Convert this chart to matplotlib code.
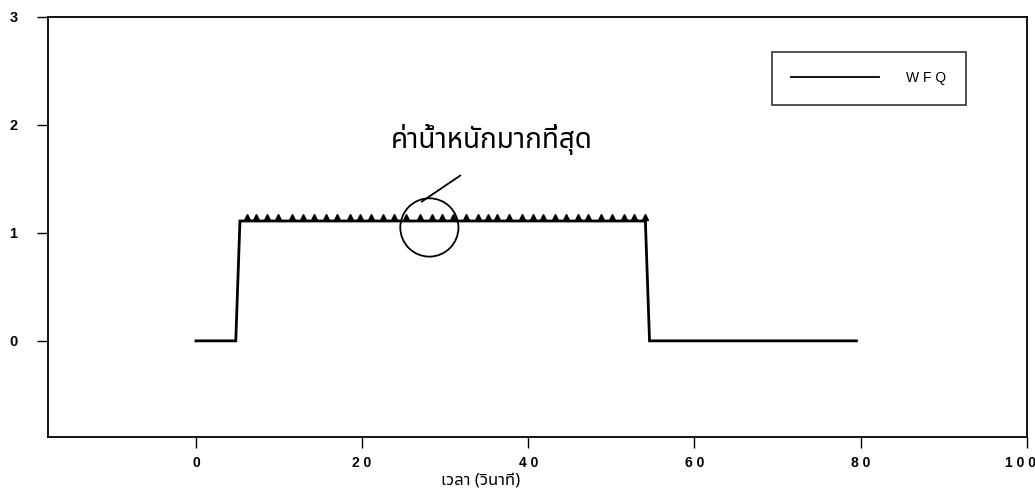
import matplotlib
matplotlib.use("Agg")
import matplotlib.pyplot as plt
from matplotlib.patches import Ellipse
from matplotlib.transforms import ScaledTranslation

# ---- data ----
time_s = [0, 4.8, 5.3, 54.1, 54.6, 79.5]
weight = [0, 0, 1.11, 1.11, 0, 0]
peak_times = [6.1, 7.2, 8.5, 9.9, 11.6, 12.9, 14.2, 15.6, 17.0, 18.5, 19.7, 21.1,
              22.5, 23.9, 25.3, 27.0, 28.4, 29.6, 30.9, 32.5, 33.9, 35.1, 36.3, 37.7,
              39.3, 40.6, 41.8, 43.2, 44.6, 46.0, 47.2, 48.7, 50.1, 51.5, 52.7, 54.0]
peak_value = 1.15
x_ticks = [0, 20, 40, 60, 80, 100]
x_tick_labels = ["0", "2 0", "4 0", "6 0", "8 0", "1 0 0"]
y_ticks = [0, 1, 2, 3]
y_tick_labels = ["0", "1", "2", "3"]
series_name = "W F Q"
annotation = "ค่าน้ำหนักมากที่สุด"
x_label = "เวลา (วินาที)"

thai_fams = ["Noto Sans Thai", "Noto Sans Thai Looped", "Loma", "Garuda", "Tlwg Typo",
             "Norasi", "Kinnari", "Waree", "Sarabun", "DejaVu Sans"]

fig = plt.figure(figsize=(10.35, 4.96), dpi=100)
ax = fig.add_axes([0.0464, 0.119, 0.9456, 0.847])

ax.plot(time_s, weight, color="black", lw=2.0, label=series_name, solid_joinstyle="miter")
ax.plot(peak_times, [peak_value] * len(peak_times), linestyle="none", marker="^",
        color="black", markersize=5)

ax.set_xlim(-17.8, 100)
ax.set_ylim(-0.89, 3)
ax.set_xticks(x_ticks)
ax.set_xticklabels(x_tick_labels, fontfamily="Liberation Sans", fontweight="bold", fontsize=10)
ax.set_yticks(y_ticks)
ax.set_yticklabels(y_tick_labels, fontfamily="Liberation Sans", fontweight="bold", fontsize=10.5)
ax.tick_params(axis="x", direction="out", length=8, width=1, color="black", pad=6)
ax.tick_params(axis="y", direction="out", length=8, width=1, color="black", pad=14)
for s in ax.spines.values():
    s.set_linewidth(1.3)

# keep the last x label inside the figure
last = ax.get_xticklabels()[-1]
last.set_transform(last.get_transform() + ScaledTranslation(-6 / 100, 0, fig.dpi_scale_trans))

# annotation circle and pointer
ax.add_patch(Ellipse((28.1, 1.05), 7.0, 0.54, fill=False, color="black", lw=1.3))
ax.plot([27.2, 31.8], [1.29, 1.53], color="black", lw=1.3)
ax.text(35.6, 1.86, annotation, fontsize=20, ha="center", va="center", family=thai_fams)

leg = ax.legend(loc="upper left", bbox_to_anchor=(0.7395, 0.917), frameon=True, fancybox=False,
                edgecolor="black", handlelength=6.3, handletextpad=2.0, borderpad=1.4,
                borderaxespad=0, prop={"family": "Liberation Sans", "size": 10})
leg.get_frame().set_linewidth(1.2)
leg.get_lines()[0].set_linewidth(1.3)

fig.text(0.464, 0.032, x_label, fontsize=12, ha="center", va="center", family=thai_fams)

fig.savefig("out.png", dpi=100)
